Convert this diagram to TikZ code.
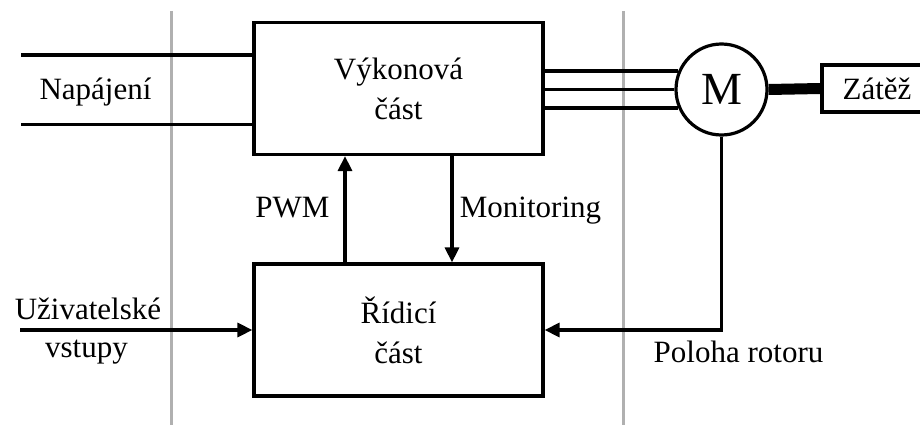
\documentclass[tikz,border=0pt]{standalone}
\usepackage{fontspec}
\setmainfont{Liberation Serif}
\usetikzlibrary{arrows.meta, positioning, calc}
\definecolor{divgray}{RGB}{176, 176, 176}

\begin{document}
\begin{tikzpicture}[x=1pt, y=-1pt,
    block/.style={rectangle, draw, line width=3.2pt,
                  minimum width=289pt, minimum height=132pt,
                  align=center, font=\fontsize{31}{40}\selectfont},
    txt/.style={font=\fontsize{31}{40}\selectfont, inner sep=0pt, anchor=base},
    wire/.style={line width=3.2pt},
    arr/.style={line width=3.2pt, -{Triangle[length=15pt, width=14pt]}},
    divider/.style={draw=divgray, line width=3pt}
]
\useasboundingbox (0,0) rectangle (920,425);

% dividers
\draw[divider] (171,11) -- (171,425);
\draw[divider] (623,11) -- (623,425);

% blocks
\node[block] (pwr)  at (398.5,88.5) {Výkonová\\část};
\node[block] (ctrl) at (398.5,330)  {Řídicí\\část};
\node[circle, draw, fill=white, line width=3.2pt, minimum size=91pt, inner sep=0pt,
      font=\fontsize{46}{46}\selectfont] (mot) at (721.5,89.5) {M};
\node[rectangle, draw, line width=3.2pt, minimum width=110pt, minimum height=47pt,
      font=\fontsize{31}{40}\selectfont] (load) at (877,88.5) {Zátěž};

% labels
\node[txt] (supply) at (95.5,100) {Napájení};
\node[txt] (user1)  at (88,319)   {Uživatelské};
\node[txt] (user2)  at (86.5,357) {vstupy};
\node[txt] (pwm)    at (292.5,217) {PWM};
\node[txt] (mon)    at (530.5,217) {Monitoring};
\node[txt] (rotor)  at (738.5,362) {Poloha rotoru};

\coordinate (s1) at (21,55);
\coordinate (s2) at (21,124.5);
\coordinate (uin) at (20,330);
\coordinate (pwmx) at (345,0);
\coordinate (monx) at (452,0);

% connections
\draw[wire] (s1) -- (s1 -| pwr.west);
\draw[wire] (s2) -- (s2 -| pwr.west);
\draw[arr] (uin) -- (ctrl.west);
\draw[arr] (ctrl.north -| pwmx) -- (pwr.south -| pwmx);
\draw[arr] (pwr.south -| monx) -- (ctrl.north -| monx);
\foreach \a in {157,180,203}
  \draw[wire] (pwr.east |- mot.\a) -- (mot.\a);
\draw[line width=11pt] (mot.east) -- (load.west);
\draw[arr] (mot.south) |- (ctrl.east);

\end{tikzpicture}
\end{document}
